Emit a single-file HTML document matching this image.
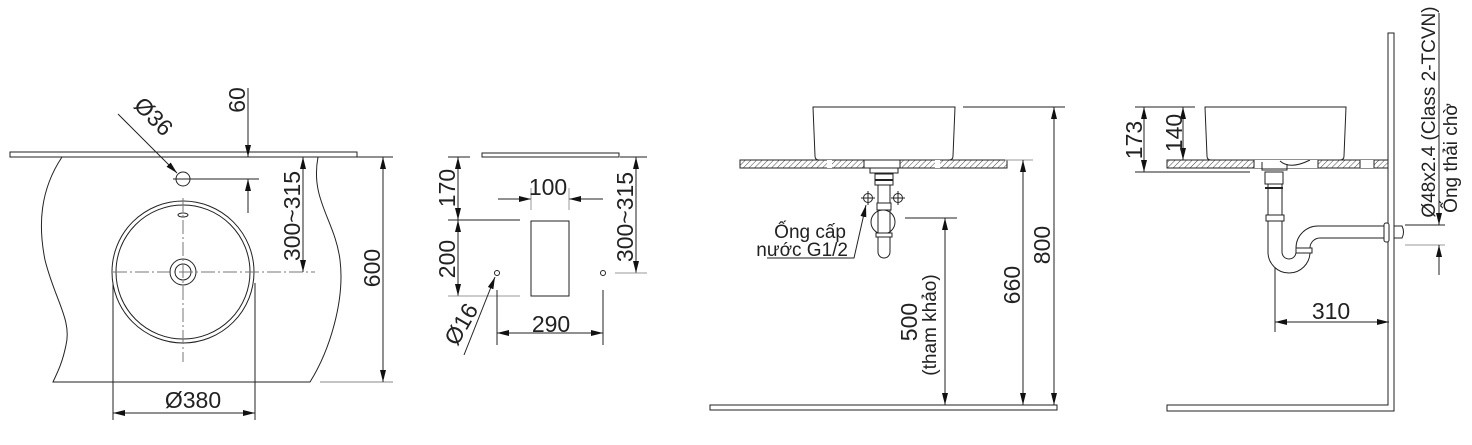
<!DOCTYPE html>
<html><head><meta charset="utf-8"><style>
html,body{margin:0;padding:0;background:#fff;}
svg{display:block;}
text{font-family:"Liberation Sans","Noto Sans CJK SC",sans-serif;fill:#222;}
</style></head><body>
<svg width="1472" height="445" viewBox="0 0 1472 445" xmlns="http://www.w3.org/2000/svg">
<defs>
<marker id="a" viewBox="0 0 12 6" refX="12" refY="3" markerWidth="12" markerHeight="6" markerUnits="userSpaceOnUse" orient="auto-start-reverse"><path d="M0,0 L12,3 L0,6 z" fill="#111"/></marker>
<pattern id="h" width="4" height="4" patternUnits="userSpaceOnUse" patternTransform="rotate(45)"><line x1="0" y1="0" x2="0" y2="4" stroke="#444" stroke-width="1"/></pattern>
</defs>
<g fill="none" stroke="#222" stroke-width="1">
<rect x="10" y="152" width="347" height="5"/>
<line x1="357" y1="157" x2="393" y2="157"/>
<path d="M62,157 C40,190 38,225 45,260 C55,300 72,320 66,345 C62,365 56,375 53,382 L310,382 C330,350 345,300 340,260 C335,220 310,200 318,157"/>
<line x1="320" y1="382" x2="393" y2="382" stroke="#888"/>
<circle cx="183" cy="179" r="7"/>
<line x1="118" y1="114" x2="177" y2="173" marker-end="url(#a)"/>
<line x1="173" y1="179" x2="259" y2="179"/>
<line x1="248" y1="88" x2="248" y2="157" marker-end="url(#a)"/>
<line x1="248" y1="213" x2="248" y2="179" marker-end="url(#a)"/>
<circle cx="183" cy="272" r="71"/>
<circle cx="183" cy="272" r="67"/>
<circle cx="183" cy="272" r="13"/>
<circle cx="183" cy="272" r="8"/>
<ellipse cx="183" cy="215" rx="5" ry="2"/>
<line x1="113" y1="272" x2="315" y2="272" stroke="#777" stroke-dasharray="14,3,2,3"/>
<line x1="183" y1="198" x2="183" y2="362" stroke="#777" stroke-dasharray="14,3,2,3"/>
<line x1="303" y1="157" x2="303" y2="272" marker-start="url(#a)" marker-end="url(#a)"/>
<line x1="383" y1="157" x2="383" y2="382" marker-start="url(#a)" marker-end="url(#a)"/>
<line x1="113" y1="283" x2="113" y2="420"/>
<line x1="255" y1="283" x2="255" y2="420"/>
<line x1="113" y1="413" x2="255" y2="413" marker-start="url(#a)" marker-end="url(#a)"/>

<rect x="482" y="153" width="137" height="4"/>
<line x1="448" y1="157" x2="470" y2="157"/>
<line x1="620" y1="157" x2="647" y2="157"/>
<line x1="458" y1="157" x2="458" y2="220" marker-start="url(#a)" marker-end="url(#a)"/>
<line x1="458" y1="220" x2="458" y2="296" marker-start="url(#a)" marker-end="url(#a)"/>
<line x1="448" y1="220" x2="520" y2="220"/>
<line x1="448" y1="296" x2="520" y2="296" stroke="#999"/>
<rect x="531" y="221" width="38" height="75"/>
<line x1="498" y1="199" x2="531" y2="199" marker-end="url(#a)"/>
<line x1="603" y1="199" x2="569" y2="199" marker-end="url(#a)"/>
<line x1="531" y1="188" x2="531" y2="210" stroke="#999"/>
<line x1="569" y1="188" x2="569" y2="210" stroke="#999"/>
<line x1="636" y1="157" x2="636" y2="273" marker-start="url(#a)" marker-end="url(#a)"/>
<line x1="615" y1="273" x2="647" y2="273" stroke="#999"/>
<circle cx="497" cy="273" r="2.5"/>
<circle cx="603" cy="273" r="2.5"/>
<line x1="497" y1="290" x2="497" y2="345"/>
<line x1="603" y1="290" x2="603" y2="345"/>
<line x1="497" y1="333" x2="603" y2="333" marker-start="url(#a)" marker-end="url(#a)"/>
<line x1="464" y1="355" x2="495" y2="277" marker-end="url(#a)"/>

<path d="M813,107 L955,107 L953,156 Q953,160 949,160 L819,160 Q815,160 815,156 Z"/>
<rect x="740" y="160" width="267" height="8" fill="url(#h)"/>
<rect x="827" y="160" width="5" height="8" fill="#fff" stroke="none"/>
<rect x="935" y="160" width="5" height="8" fill="#fff" stroke="none"/>
<rect x="864" y="160" width="36" height="8" fill="#fff"/>
<rect x="870" y="168" width="28" height="5" fill="#fff"/>
<rect x="875" y="174" width="18" height="11"/>
<line x1="875" y1="180" x2="893" y2="180" stroke-width="2"/>
<rect x="878" y="185" width="12" height="18"/>
<rect x="877" y="203" width="14" height="7"/>
<circle cx="883" cy="222" r="12"/>
<path d="M878,210 L878,252 A6,6 0 0 0 890,252 L890,210"/>
<rect x="876" y="233" width="16" height="4" fill="#fff"/>
<circle cx="868" cy="198" r="4.5"/><line x1="868" y1="191" x2="868" y2="205"/><line x1="861" y1="198" x2="875" y2="198"/>
<circle cx="898" cy="198" r="4.5"/><line x1="898" y1="191" x2="898" y2="205"/><line x1="891" y1="198" x2="905" y2="198"/>
<polyline points="767,258 854,258 866,205" marker-end="url(#a)"/>
<rect x="710" y="405" width="347" height="5"/>
<line x1="905" y1="218" x2="957" y2="218"/>
<line x1="945" y1="218" x2="945" y2="405" marker-start="url(#a)" marker-end="url(#a)"/>
<line x1="1005" y1="160" x2="1033" y2="160" stroke="#999"/>
<line x1="1023" y1="160" x2="1023" y2="405" marker-start="url(#a)" marker-end="url(#a)"/>
<line x1="963" y1="107" x2="1065" y2="107"/>
<line x1="1054" y1="107" x2="1054" y2="405" marker-start="url(#a)" marker-end="url(#a)"/>

<path d="M1388,33 L1394,33 L1394,411 L1167,411 L1167,405 L1388,405 Z"/>
<path d="M1205,107 L1346,107 L1344,156 Q1344,160 1340,160 L1211,160 Q1207,160 1207,156 Z"/>
<rect x="1167" y="160" width="221" height="8" fill="url(#h)"/>
<rect x="1254" y="160" width="64" height="8" fill="#fff" stroke="none"/>
<rect x="1360" y="160" width="14" height="8" fill="#fff" stroke="none"/>
<path d="M1254,160 L1254,168 M1318,160 L1318,168 M1360,160 L1360,168 M1374,160 L1374,168"/>
<path d="M1262,162 L1262,170 L1287,170 L1287,164 M1280,161 Q1290,170 1310,160"/>
<line x1="1135" y1="172" x2="1250" y2="172"/>
<line x1="1135" y1="107" x2="1195" y2="107"/>
<rect x="1265" y="172" width="18" height="12"/>
<line x1="1265" y1="188" x2="1283" y2="188" stroke-width="2"/>
<path d="M1268,184 L1268,252 A21,21 0 0 0 1310,252 L1310,248 A10,10 0 0 1 1320,238 L1384,238 M1282,184 L1282,252 A7,7 0 0 0 1296,252 L1296,248 A22,22 0 0 1 1318,226 L1384,226"/>
<rect x="1266" y="215" width="18" height="6" fill="#fff"/>
<rect x="1296" y="248" width="16" height="5" fill="#fff"/>
<rect x="1384" y="223" width="5" height="19" rx="2" fill="#fff"/>
<path d="M1394,226 L1402,226 Q1405,232 1402,238 L1394,238"/>
<line x1="1405" y1="225" x2="1445" y2="225"/>
<line x1="1405" y1="245" x2="1445" y2="245" stroke="#999"/>
<line x1="1439" y1="13" x2="1439" y2="225" marker-end="url(#a)"/>
<line x1="1439" y1="275" x2="1439" y2="245" marker-end="url(#a)"/>
<line x1="1144" y1="107" x2="1144" y2="172" marker-start="url(#a)" marker-end="url(#a)"/>
<line x1="1183" y1="107" x2="1183" y2="160" marker-start="url(#a)" marker-end="url(#a)"/>
<line x1="1275" y1="268" x2="1275" y2="332"/>
<line x1="1275" y1="322" x2="1389" y2="322" marker-start="url(#a)" marker-end="url(#a)"/>
</g>

<g font-size="23">
<text transform="translate(148,122) rotate(45)" text-anchor="middle">Ø36</text>
<text transform="translate(245,100) rotate(-90)" text-anchor="middle">60</text>
<text transform="translate(300,216) rotate(-90)" text-anchor="middle">300~315</text>
<text transform="translate(380,268) rotate(-90)" text-anchor="middle">600</text>
<text x="193" y="408" text-anchor="middle">Ø380</text>
<text transform="translate(455,188) rotate(-90)" text-anchor="middle">170</text>
<text transform="translate(455,259) rotate(-90)" text-anchor="middle">200</text>
<text x="548" y="195" text-anchor="middle">100</text>
<text transform="translate(633,217) rotate(-90)" text-anchor="middle">300~315</text>
<text x="551" y="332" text-anchor="middle">290</text>
<text transform="translate(468,328) rotate(-60)" text-anchor="middle">Ø16</text>
<text transform="translate(917,322) rotate(-90)" text-anchor="middle">500</text>
<text transform="translate(1020,285) rotate(-90)" text-anchor="middle">660</text>
<text transform="translate(1050,245) rotate(-90)" text-anchor="middle">800</text>
<text transform="translate(1142,140) rotate(-90)" text-anchor="middle">173</text>
<text transform="translate(1182,133) rotate(-90)" text-anchor="middle">140</text>
<text x="1331" y="319" text-anchor="middle">310</text>
</g>
<g font-size="19">
<text transform="translate(936,325) rotate(-90)" text-anchor="middle">(tham khảo)</text>
<text x="846" y="238" text-anchor="end">Ống cấp</text>
<text x="848" y="256" text-anchor="end">nước G1/2</text>
<text transform="translate(1435,112) rotate(-90)" text-anchor="middle">Ø48x2.4 (Class 2-TCVN)</text>
<text transform="translate(1457,158) rotate(-90)" text-anchor="middle">Ống thải chờ</text>
</g>
</svg>
</body></html>
